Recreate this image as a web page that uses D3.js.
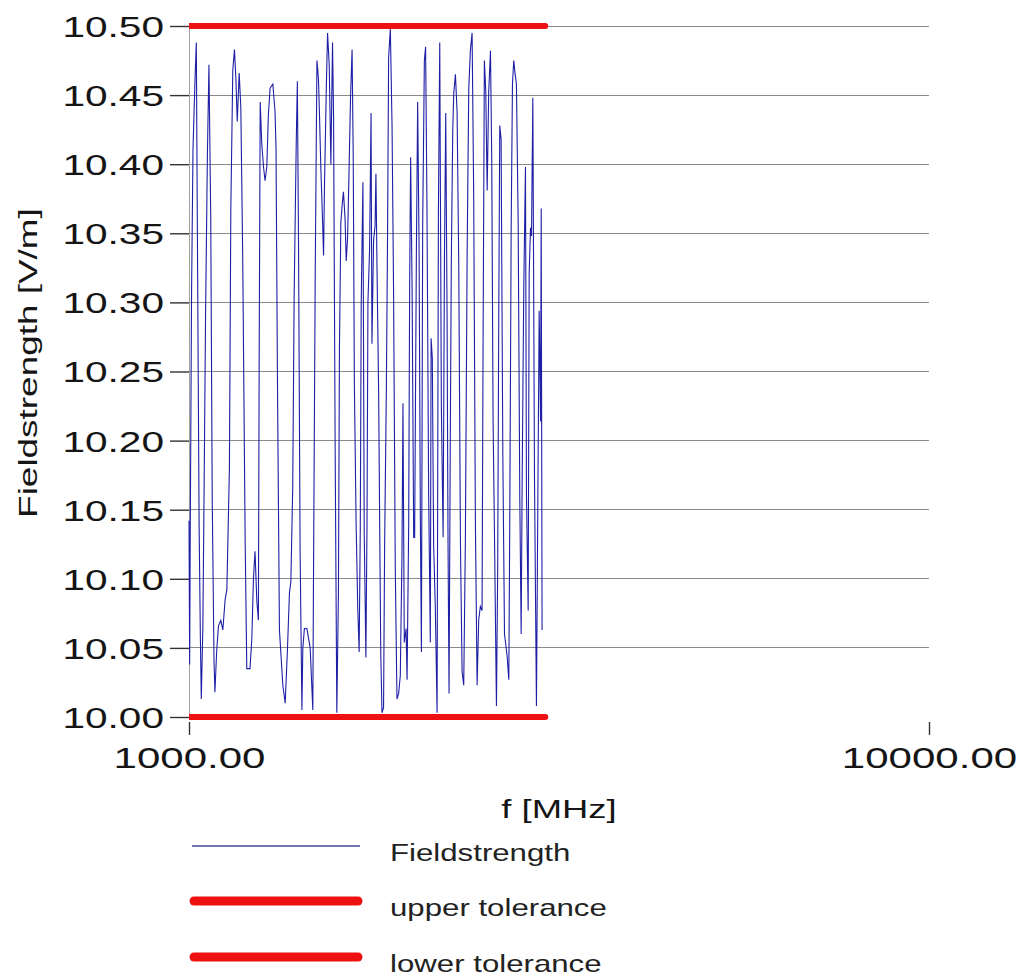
<!doctype html>
<html>
<head>
<meta charset="UTF-8">
<title>Fieldstrength</title>
<script src="https://d3js.org/d3.v7.min.js"></script>
<style>
  body { margin: 0; background: #fff; }
</style>
</head>
<body>
<script>
var freqMHz = [1000, 1002, 1004, 1008, 1012.5, 1019, 1023, 1026, 1032, 1036, 1039, 1044, 1048, 1053, 1059, 1064,
  1070, 1075, 1081, 1084, 1090, 1096, 1104, 1111, 1119, 1125, 1134, 1139, 1146, 1152, 1157, 1162, 1169, 1175,
  1182, 1191, 1197, 1209, 1216, 1222, 1228, 1235, 1241, 1244, 1248, 1254, 1261, 1267, 1274, 1280, 1287, 1298,
  1307, 1311, 1317, 1325, 1332, 1339, 1349, 1353, 1358, 1367, 1373, 1381, 1387, 1396, 1401, 1406, 1413, 1421,
  1425, 1432, 1443, 1458, 1466, 1470, 1473, 1481, 1489, 1496, 1501, 1507, 1514, 1520, 1524, 1533, 1539, 1547,
  1555, 1563, 1568, 1576, 1584, 1592, 1597, 1604, 1611, 1617, 1625, 1631, 1638, 1644, 1653, 1661, 1667, 1673,
  1682, 1691, 1698, 1704, 1709, 1718, 1725, 1734, 1740, 1745, 1754, 1762, 1767, 1776, 1784, 1789, 1795, 1804,
  1810, 1816, 1823, 1832, 1838, 1848, 1855, 1861, 1871, 1881, 1890, 1900, 1910, 1920, 1930, 1940, 1946, 1954,
  1965, 1971, 1981, 1987, 1993, 2002, 2012, 2018, 2029, 2037, 2046, 2054, 2061, 2069, 2080, 2088, 2097, 2108,
  2119, 2124, 2132, 2141, 2152, 2164, 2173, 2182, 2193, 2205, 2214, 2223, 2232, 2239, 2246, 2255, 2262, 2272,
  2279, 2291, 2303, 2315, 2327, 2339, 2351, 2363, 2376, 2388, 2400, 2413, 2425, 2438, 2451, 2463, 2476, 2489,
  2497, 2507, 2518, 2529, 2541, 2555, 2565, 2576, 2587, 2603, 2613, 2622, 2630, 2641, 2655, 2669, 2691, 2705,
  2713, 2725, 2736, 2747, 2759, 2770, 2785, 2799, 2811, 2820, 2834, 2849, 2858, 2873, 2882, 2894, 2903, 2915,
  2930, 2948, 2960, 2973, 2986, 2992, 3000];
var fieldVm = [10.142, 10.038, 10.138, 10.307, 10.411, 10.462, 10.488, 10.368, 10.138, 10.058, 10.013, 10.065,
  10.162, 10.293, 10.408, 10.472, 10.361, 10.157, 10.040, 10.018, 10.048, 10.066, 10.070, 10.063, 10.085, 10.092,
  10.180, 10.368, 10.468, 10.483, 10.462, 10.431, 10.466, 10.441, 10.331, 10.127, 10.035, 10.035, 10.057, 10.100,
  10.120, 10.084, 10.070, 10.257, 10.445, 10.415, 10.398, 10.388, 10.398, 10.435, 10.455, 10.458,
  10.438, 10.411, 10.240, 10.063, 10.043, 10.023, 10.010, 10.027, 10.047, 10.090, 10.098, 10.167, 10.304, 10.414,
  10.460, 10.345, 10.120, 10.005, 10.050, 10.064, 10.064, 10.050, 10.020, 10.005, 10.097, 10.320, 10.475, 10.462,
  10.435, 10.398, 10.365, 10.334, 10.381, 10.455, 10.495, 10.472, 10.400, 10.488, 10.435, 10.190, 10.003, 10.090,
  10.267, 10.358, 10.371, 10.380, 10.361, 10.330, 10.347, 10.385, 10.448, 10.483, 10.405, 10.240, 10.140, 10.077,
  10.047, 10.137, 10.300, 10.387, 10.133, 10.043, 10.140, 10.300, 10.338, 10.437, 10.270, 10.345, 10.355, 10.393,
  10.325, 10.237, 10.140, 10.047, 10.003, 10.007, 10.124, 10.237, 10.351, 10.477, 10.498, 10.428, 10.307, 10.107,
  10.013, 10.017, 10.030, 10.117, 10.227, 10.054, 10.064, 10.027, 10.140, 10.314, 10.405, 10.311, 10.130, 10.130,
  10.337, 10.445, 10.340, 10.147, 10.047, 10.354, 10.475, 10.485, 10.368, 10.160, 10.054, 10.274, 10.260, 10.124,
  10.080, 10.003, 10.368, 10.488, 10.224, 10.130, 10.330, 10.437, 10.295, 10.124, 10.017, 10.207, 10.330, 10.424,
  10.451, 10.465, 10.438, 10.327, 10.127, 10.033, 10.023, 10.127, 10.334, 10.454, 10.482, 10.495, 10.378, 10.140,
  10.023, 10.070, 10.080, 10.077, 10.274, 10.475, 10.452, 10.381, 10.452, 10.482, 10.405, 10.214, 10.133, 10.008,
  10.107, 10.294, 10.428, 10.418, 10.191, 10.060, 10.044, 10.027, 10.140, 10.354, 10.458, 10.475, 10.465, 10.458,
  10.358, 10.160, 10.060, 10.174, 10.311, 10.398, 10.160, 10.077, 10.321, 10.354, 10.348, 10.448, 10.174, 10.008,
  10.147, 10.294, 10.214, 10.368, 10.063];

var tolFreq = [1000, 3030];   // tolerance band drawn over the sweep
var upperTol = 10.50;
var lowerTol = 10.00;

var yTicks = [10.00, 10.05, 10.10, 10.15, 10.20, 10.25, 10.30, 10.35, 10.40, 10.45, 10.50];
var xTicks = [1000, 10000];
var legendNames = ["Fieldstrength", "upper tolerance", "lower tolerance"];

var w = 1023;
var h = 979;
var plotLeft = 189, plotRight = 929, plotTop = 26, plotBottom = 717;
var font = "'Liberation Sans', Arial, sans-serif";
var stretch = 1.4;   // the original text is drawn wide

var svg = d3.select("body").append("svg").attr("width", w).attr("height", h);

var x = d3.scaleLog().domain([1000, 10000]).range([plotLeft, plotRight]);
var y = d3.scaleLinear().domain([10, 10.5]).range([plotBottom, plotTop]);

// horizontal grid
svg.append("g").selectAll("line")
  .data(yTicks.filter(function(d) { return d > 10; }))
  .enter().append("line")
  .attr("x1", x(1000)).attr("x2", x(10000))
  .attr("y1", function(d) { return y(d); })
  .attr("y2", function(d) { return y(d); })
  .attr("stroke", "#8a8a8a")
  .attr("stroke-width", 1)
  .attr("shape-rendering", "crispEdges");

// y axis
var yAxis = d3.axisLeft(y).tickValues(yTicks).tickSizeInner(19).tickSizeOuter(0)
  .tickPadding(6).tickFormat(d3.format(".2f"));
var gy = svg.append("g").attr("transform", "translate(" + plotLeft + ",0)").call(yAxis);
gy.select(".domain").attr("stroke", "#a0a0a0").attr("shape-rendering", "crispEdges");
gy.selectAll(".tick line").attr("stroke", "#333").attr("stroke-width", 1.4);
gy.selectAll(".tick text")
  .attr("font-family", font).attr("font-size", 29).attr("fill", "#151515")
  .attr("x", -25 / stretch).attr("dy", null).attr("y", 10.4)
  .attr("transform", "scale(" + stretch + ",1)");

// x axis, ticks only
var xAxis = d3.axisBottom(x).tickValues(xTicks).tickSizeInner(13).tickSizeOuter(0)
  .tickFormat(d3.format(".2f"));
var gx = svg.append("g").attr("transform", "translate(0,722)").call(xAxis);
gx.select(".domain").remove();
gx.selectAll(".tick line").attr("stroke", "#333").attr("stroke-width", 1.4);
gx.selectAll(".tick text")
  .attr("font-family", font).attr("font-size", 29).attr("fill", "#151515")
  .attr("y", 46).attr("dy", null)
  .attr("transform", "scale(1.45,1)");

// measured curve
var line = d3.line()
  .x(function(d, i) { return x(freqMHz[i]); })
  .y(function(d) { return y(d); });

svg.append("path")
  .datum(fieldVm)
  .attr("d", line)
  .attr("fill", "none")
  .attr("stroke", "#1f1fa6")
  .attr("stroke-width", 1.1);

// tolerance lines, cut at the left axis
svg.append("clipPath").attr("id", "plotClip")
  .append("rect").attr("x", plotLeft).attr("y", 0).attr("width", w - plotLeft).attr("height", h);

[upperTol, lowerTol].forEach(function(v) {
  svg.append("path")
    .datum(tolFreq)
    .attr("d", d3.line().x(function(d) { return x(d); }).y(function() { return y(v); }))
    .attr("fill", "none")
    .attr("stroke", "#ee1111")
    .attr("stroke-width", 6)
    .attr("stroke-linecap", "round")
    .attr("clip-path", "url(#plotClip)");
});

// axis titles
svg.append("text")
  .attr("transform", "translate(559,818) scale(" + stretch + ",1)")
  .attr("text-anchor", "middle")
  .attr("font-family", font).attr("font-size", 26).attr("fill", "#151515")
  .text("f [MHz]");

svg.append("text")
  .attr("transform", "translate(37,363) rotate(-90) scale(1.42,1)")
  .attr("text-anchor", "middle")
  .attr("font-family", font).attr("font-size", 26).attr("fill", "#151515")
  .text("Fieldstrength [V/m]");

// legend
var legendY = [846, 901, 957];
var lg = svg.append("g");
lg.append("line")
  .attr("x1", 192).attr("x2", 360).attr("y1", legendY[0]).attr("y2", legendY[0])
  .attr("stroke", "#4545a0").attr("stroke-width", 1.3);
[1, 2].forEach(function(i) {
  lg.append("line")
    .attr("x1", 194).attr("x2", 358).attr("y1", legendY[i]).attr("y2", legendY[i])
    .attr("stroke", "#ee1111").attr("stroke-width", 9).attr("stroke-linecap", "round");
});
lg.selectAll("text").data(legendNames).enter().append("text")
  .attr("transform", function(d, i) { return "translate(390," + (legendY[i] + 15) + ") scale(1.3,1)"; })
  .attr("font-family", font).attr("font-size", 24).attr("fill", "#222")
  .text(function(d) { return d; });
</script>
</body>
</html>
